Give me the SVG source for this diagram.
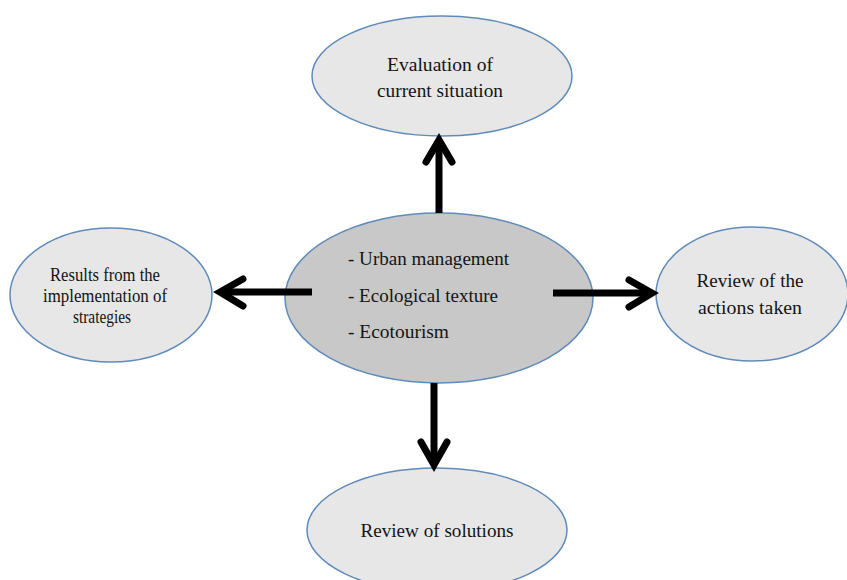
<svg xmlns="http://www.w3.org/2000/svg" width="847" height="580" viewBox="0 0 847 580">
<style>
.node{fill:#e7e7e7;stroke:#5f8bbb;stroke-width:1.5}
.center{fill:#c8c8c8;stroke:#5f8bbb;stroke-width:1.5}
text{font-family:"Liberation Serif","Times New Roman",serif;font-size:19px;fill:#141414}
.mid{text-anchor:middle}
.small{font-size:19px}
.shaft{stroke:#000;stroke-width:7;fill:none}
.head{stroke:#000;stroke-width:7;fill:none;stroke-linecap:round;stroke-linejoin:miter}
</style>
<rect width="847" height="580" fill="#fff"/>
<g id="node-evaluation">
<ellipse class="node" cx="442" cy="76" rx="130" ry="60"/>
<text class="mid" x="440" y="71" textLength="106" lengthAdjust="spacingAndGlyphs">Evaluation of</text>
<text class="mid" x="440" y="97" textLength="126" lengthAdjust="spacingAndGlyphs">current situation</text>
</g>
<g id="node-results">
<ellipse class="node" cx="111" cy="295" rx="101" ry="67"/>
<text class="mid small" x="105" y="281" textLength="110" lengthAdjust="spacingAndGlyphs">Results from the</text>
<text class="mid small" x="105" y="302" textLength="124" lengthAdjust="spacingAndGlyphs">implementation of</text>
<text class="mid small" x="102" y="323" textLength="58" lengthAdjust="spacingAndGlyphs">strategies</text>
</g>
<g id="node-center">
<ellipse class="center" cx="439" cy="298" rx="154" ry="85"/>
<text x="348" y="265" textLength="161" lengthAdjust="spacingAndGlyphs">- Urban management</text>
<text x="348" y="302" textLength="150" lengthAdjust="spacingAndGlyphs">- Ecological texture</text>
<text x="348" y="338" textLength="101" lengthAdjust="spacingAndGlyphs">- Ecotourism</text>
</g>
<g id="node-review-actions">
<ellipse class="node" cx="752" cy="294" rx="96" ry="67"/>
<text class="mid" x="750" y="287" textLength="107" lengthAdjust="spacingAndGlyphs">Review of the</text>
<text class="mid" x="750" y="314" textLength="104" lengthAdjust="spacingAndGlyphs">actions taken</text>
</g>
<g id="node-review-solutions">
<ellipse class="node" cx="437" cy="530" rx="130" ry="62"/>
<text class="mid" x="437" y="537" textLength="153" lengthAdjust="spacingAndGlyphs">Review of solutions</text>
</g>
<g id="connectors">
<line class="shaft" x1="439" y1="213" x2="439" y2="142"/>
<polyline class="head" points="426,162 439,140 452,162"/>
<line class="shaft" x1="312" y1="292" x2="223" y2="292"/>
<polyline class="head" points="243,279 220,292 243,306"/>
<line class="shaft" x1="553" y1="293" x2="649" y2="293"/>
<polyline class="head" points="629,280 652,293 629,307"/>
<line class="shaft" x1="434" y1="383" x2="434" y2="462"/>
<polyline class="head" points="421,442 434,465 447,442"/>
</g>
</svg>
